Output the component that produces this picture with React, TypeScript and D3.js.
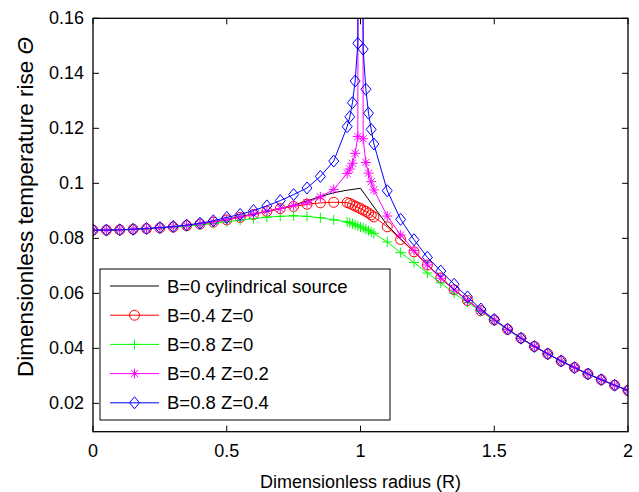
import React, { useEffect, useRef } from 'react';
import * as d3 from 'd3';

// radius grid used by the black (no marker) curve
const rCoarse = [0, 0.05, 0.1, 0.15, 0.2, 0.25, 0.3, 0.35, 0.4, 0.45, 0.5, 0.55, 0.6, 0.65, 0.7, 0.75, 0.8, 0.85, 0.9, 0.95,
    1.0, 1.05, 1.1, 1.15, 1.2, 1.25, 1.3, 1.35, 1.4, 1.45, 1.5, 1.55, 1.6, 1.65, 1.7, 1.75, 1.8, 1.85, 1.9, 1.95, 2.0];

// radius grid for the marked curves (denser around R = 1)
const rFine = [0, 0.05, 0.1, 0.15, 0.2, 0.25, 0.3, 0.35, 0.4, 0.45, 0.5, 0.55, 0.6, 0.65, 0.7, 0.75, 0.8, 0.85, 0.9,
    0.95, 0.96, 0.97, 0.98, 0.99, 1.0, 1.01, 1.02, 1.03, 1.04, 1.05,
    1.1, 1.15, 1.2, 1.25, 1.3, 1.35, 1.4, 1.45, 1.5, 1.55, 1.6, 1.65, 1.7, 1.75, 1.8, 1.85, 1.9, 1.95, 2.0];

const thetaCyl = [0.0830, 0.0830, 0.0831, 0.0833, 0.0835, 0.0838, 0.0841, 0.0846, 0.0852, 0.0860, 0.0869, 0.0879, 0.0889, 0.0898, 0.0908,
    0.0921, 0.0936, 0.0952, 0.0966, 0.0975, 0.0982, 0.0914, 0.0848, 0.0798, 0.0752, 0.0704, 0.0657, 0.0614, 0.0575, 0.0538,
    0.0503, 0.0469, 0.0437, 0.0407, 0.0380, 0.0354, 0.0330, 0.0307, 0.0286, 0.0266, 0.0247];

const thetaB04Z0 = [0.0830, 0.0830, 0.0831, 0.0833, 0.0835, 0.0838, 0.0841, 0.0846, 0.0852, 0.0859, 0.0867, 0.0876, 0.0887, 0.0898, 0.0908,
    0.0916, 0.0924, 0.0929, 0.0931,
    0.0930, 0.0927, 0.0922, 0.0917, 0.0913, 0.0908, 0.0903, 0.0898, 0.0892, 0.0885, 0.0878,
    0.0842, 0.0796, 0.0751, 0.0703, 0.0656, 0.0613, 0.0574, 0.0537,
    0.0503, 0.0469, 0.0437, 0.0407, 0.0380, 0.0354, 0.0330, 0.0307, 0.0286, 0.0266, 0.0247];

const thetaB08Z0 = [0.0830, 0.0830, 0.0831, 0.0832, 0.0834, 0.0837, 0.0840, 0.0844, 0.0849, 0.0854, 0.0860, 0.0866, 0.0872, 0.0877, 0.0880,
    0.0882, 0.0880, 0.0875, 0.0867,
    0.0860, 0.0857, 0.0853, 0.0849, 0.0845, 0.0841, 0.0838, 0.0833, 0.0828, 0.0823, 0.0818,
    0.0787, 0.0748, 0.0712, 0.0674, 0.0638, 0.0600, 0.0567, 0.0534,
    0.0501, 0.0468, 0.0436, 0.0407, 0.0380, 0.0354, 0.0330, 0.0307, 0.0286, 0.0266, 0.0247];

// R = 1 is singular for Z > 0 (off the top of the axes)
const thetaB04Z02 = [0.0830, 0.0830, 0.0831, 0.0833, 0.0835, 0.0838, 0.0842, 0.0847, 0.0853, 0.0860, 0.0868, 0.0877, 0.0888, 0.0899, 0.0908,
    0.0920, 0.0930, 0.0951, 0.0978,
    0.1036, 0.1052, 0.1073, 0.1109, 0.1170, 0.8000, 0.1162, 0.1076, 0.1037, 0.1006, 0.0976,
    0.0881, 0.0812, 0.0756, 0.0703, 0.0655, 0.0612, 0.0574, 0.0538,
    0.0503, 0.0469, 0.0437, 0.0407, 0.0380, 0.0354, 0.0330, 0.0307, 0.0286, 0.0266, 0.0247];

const thetaB08Z04 = [0.0830, 0.0830, 0.0831, 0.0833, 0.0836, 0.0839, 0.0843, 0.0848, 0.0855, 0.0864, 0.0876, 0.0887, 0.0901, 0.0918, 0.0937,
    0.0959, 0.0983, 0.1025, 0.1081,
    0.1206, 0.1242, 0.1293, 0.1372, 0.1509, 0.9000, 0.1488, 0.1342, 0.1255, 0.1196, 0.1143,
    0.0973, 0.0869, 0.0795, 0.0731, 0.0681, 0.0633, 0.0587, 0.0543,
    0.0505, 0.0470, 0.0437, 0.0407, 0.0380, 0.0354, 0.0330, 0.0307, 0.0286, 0.0266, 0.0247];

const legendLabels = ['B=0 cylindrical source', 'B=0.4 Z=0', 'B=0.8 Z=0', 'B=0.4 Z=0.2', 'B=0.8 Z=0.4'];
const xTicks = [0, 0.5, 1, 1.5, 2];
const yTicks = [0.02, 0.04, 0.06, 0.08, 0.1, 0.12, 0.14, 0.16];

const FONT = '"Liberation Sans", Arial, sans-serif';

export default function App() {
    const ref = useRef<SVGSVGElement | null>(null);

    useEffect(() => {
        const width = 639;
        const height = 492;
        const left = 93, right = 628, top = 18.3, bottom = 431.7;
        const tickLen = 6;

        const svg = d3.select(ref.current);
        svg.selectAll('*').remove();

        const x = d3.scaleLinear().domain([0, 2]).range([left, right]);
        const y = d3.scaleLinear().domain([0.0097, 0.16]).range([bottom, top]);

        svg.append('rect').attr('width', width).attr('height', height).attr('fill', 'white');

        svg.append('defs').append('clipPath').attr('id', 'plot-clip')
            .append('rect')
            .attr('x', left).attr('y', top)
            .attr('width', right - left).attr('height', bottom - top);

        const series = [
            { r: rCoarse, v: thetaCyl, color: '#000000', marker: 'none' },
            { r: rFine, v: thetaB04Z0, color: '#ff0000', marker: 'circle' },
            { r: rFine, v: thetaB08Z0, color: '#00ff00', marker: 'plus' },
            { r: rFine, v: thetaB04Z02, color: '#ff00ff', marker: 'star' },
            { r: rFine, v: thetaB08Z04, color: '#0000ff', marker: 'diamond' },
        ];

        // MATLAB-like marker centred at (cx, cy)
        const drawMarker = (g: any, kind: string, cx: number, cy: number, color: string) => {
            if (kind === 'circle') {
                g.append('circle').attr('cx', cx).attr('cy', cy).attr('r', 5)
                    .attr('fill', 'none').attr('stroke', color).attr('stroke-width', 1);
            } else if (kind === 'plus') {
                g.append('path').attr('d', `M${cx - 5},${cy}H${cx + 5}M${cx},${cy - 5}V${cy + 5}`)
                    .attr('stroke', color).attr('stroke-width', 1);
            } else if (kind === 'star') {
                const a = 3.6;
                g.append('path')
                    .attr('d', `M${cx - 5},${cy}H${cx + 5}M${cx},${cy - 5}V${cy + 5}` +
                        `M${cx - a},${cy - a}L${cx + a},${cy + a}M${cx - a},${cy + a}L${cx + a},${cy - a}`)
                    .attr('stroke', color).attr('stroke-width', 1);
            } else if (kind === 'diamond') {
                g.append('path')
                    .attr('d', `M${cx},${cy - 6}L${cx + 5},${cy}L${cx},${cy + 6}L${cx - 5},${cy}Z`)
                    .attr('fill', 'none').attr('stroke', color).attr('stroke-width', 1);
            }
        };

        const plot = svg.append('g').attr('clip-path', 'url(#plot-clip)');

        series.forEach(s => {
            const pts: [number, number][] = s.r.map((r, i) => [x(r), y(s.v[i])]);
            const g = plot.append('g');
            g.append('path')
                .attr('d', d3.line()(pts))
                .attr('fill', 'none')
                .attr('stroke', s.color)
                .attr('stroke-width', 1);
            pts.forEach(p => drawMarker(g, s.marker, p[0], p[1], s.color));
        });

        // axes box
        svg.append('rect')
            .attr('x', left).attr('y', top)
            .attr('width', right - left).attr('height', bottom - top)
            .attr('fill', 'none').attr('stroke', 'black').attr('stroke-width', 1.3);

        // ticks point inward, on all four sides
        xTicks.forEach(t => {
            svg.append('line').attr('x1', x(t)).attr('x2', x(t)).attr('y1', bottom).attr('y2', bottom - tickLen)
                .attr('stroke', 'black');
            svg.append('line').attr('x1', x(t)).attr('x2', x(t)).attr('y1', top).attr('y2', top + tickLen)
                .attr('stroke', 'black');
            svg.append('text').attr('x', x(t)).attr('y', bottom + 25)
                .attr('text-anchor', 'middle')
                .style('font-family', FONT).style('font-size', '18px')
                .text(d3.format('~g')(t));
        });
        yTicks.forEach(t => {
            svg.append('line').attr('x1', left).attr('x2', left + tickLen).attr('y1', y(t)).attr('y2', y(t))
                .attr('stroke', 'black');
            svg.append('line').attr('x1', right).attr('x2', right - tickLen).attr('y1', y(t)).attr('y2', y(t))
                .attr('stroke', 'black');
            svg.append('text').attr('x', left - 9).attr('y', y(t))
                .attr('text-anchor', 'end').attr('dominant-baseline', 'central')
                .style('font-family', FONT).style('font-size', '18px')
                .text(d3.format('~g')(t));
        });

        // axis titles
        svg.append('text')
            .attr('x', (left + right) / 2).attr('y', 488)
            .attr('text-anchor', 'middle')
            .style('font-family', FONT).style('font-size', '18px')
            .text('Dimensionless radius (R)');

        const yTitle = svg.append('text')
            .attr('transform', `translate(33, 207) rotate(-90)`)
            .attr('text-anchor', 'middle')
            .style('font-family', FONT).style('font-size', '22.5px');
        yTitle.append('tspan').text('Dimensionless temperature rise  ');
        yTitle.append('tspan').style('font-style', 'italic').text('Θ');

        // legend
        const lg = svg.append('g');
        lg.append('rect')
            .attr('x', 100).attr('y', 269).attr('width', 290).attr('height', 151)
            .attr('fill', 'white').attr('stroke', 'black').attr('stroke-width', 1);
        series.forEach((s, i) => {
            const ly = 286 + i * 29.2;
            lg.append('line').attr('x1', 110).attr('x2', 159).attr('y1', ly).attr('y2', ly)
                .attr('stroke', s.color).attr('stroke-width', 1);
            drawMarker(lg, s.marker, 134.5, ly, s.color);
            lg.append('text').attr('x', 167).attr('y', ly)
                .attr('dominant-baseline', 'central')
                .style('font-family', FONT).style('font-size', '18.5px')
                .text(legendLabels[i]);
        });
    }, []);

    return (
        <svg ref={ref} width={639} height={492}
            style={{ display: 'block', position: 'absolute', left: 0, top: 0 }} />
    );
}
